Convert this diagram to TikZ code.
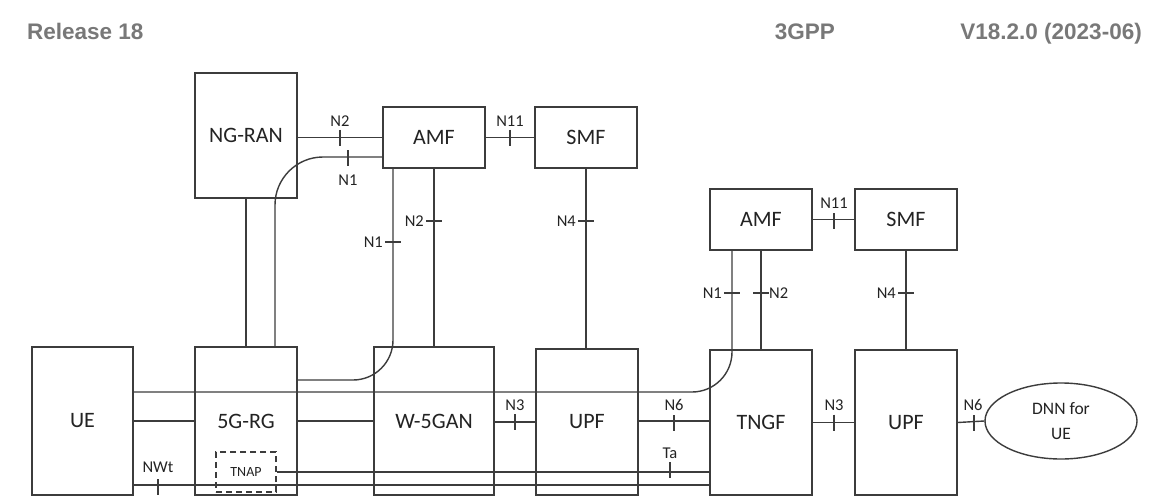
\documentclass[tikz,border=0pt]{standalone}
\usepackage{fontspec}
\setmainfont{Carlito}
\newfontfamily\hdrfont{Liberation Sans}
\usetikzlibrary{shapes.geometric,calc}
\definecolor{lc}{RGB}{60,60,60}
\definecolor{tc}{RGB}{35,35,35}
\definecolor{hc}{RGB}{120,120,120}
\begin{document}
\begin{tikzpicture}[x=1pt,y=-1pt,
  box/.style={draw=lc, line width=1.4pt, inner sep=0pt, text=tc, font=\fontsize{22}{26}\selectfont},
  conn/.style={draw=lc, line width=1.4pt},
  lbl/.style={text=tc, inner sep=1pt, font=\fontsize{16.5}{18}\selectfont},
  hd/.style={text=hc, inner sep=0pt, font=\hdrfont\bfseries\fontsize{22.5}{26}\selectfont},
  vtick/.pic={\draw[conn] (0,-8) -- (0,8);},
  htick/.pic={\draw[conn] (-8,0) -- (8,0);}
]
\useasboundingbox (0,0) rectangle (1165,498);
\fill[white] (0,0) rectangle (1165,498);

% header
\node[hd, anchor=base west] (rel) at (27,39) {Release 18};
\node[hd, anchor=base east] (gpp) at (835,39) {3GPP};
\node[hd, anchor=base east] (ver) at (1142,39) {V18.2.0 (2023-06)};

% boxes
\node[box, minimum width=102, minimum height=125] (ngran) at (246,135.5) {NG-RAN};
\node[box, minimum width=102, minimum height=61] (amf1) at (434,137.5) {AMF};
\node[box, minimum width=102, minimum height=61] (smf1) at (586,137.5) {SMF};
\node[box, minimum width=101, minimum height=148] (ue) at (82.5,421) {UE};
\node[box, minimum width=102, minimum height=148] (rg) at (246,421) {5G-RG};
\node[box, dashed, dash pattern=on 6pt off 4pt, line width=1.2pt, minimum width=60, minimum height=40,
      font=\fontsize{14}{16}\selectfont] (tnap) at (246,472) {TNAP};
\node[box, minimum width=120, minimum height=148] (w5gan) at (434,421) {W-5GAN};
\node[box, minimum width=102, minimum height=146] (upf1) at (587,422) {UPF};
\node[box, minimum width=102, minimum height=145] (tngf) at (761,422.5) {TNGF};
\node[box, minimum width=102, minimum height=61] (amf2) at (761,219.5) {AMF};
\node[box, minimum width=102, minimum height=61] (smf2) at (906,219.5) {SMF};
\node[box, minimum width=102, minimum height=145] (upf2) at (906,422.5) {UPF};
\node[box, ellipse, minimum width=152, minimum height=76, align=center,
      font=\fontsize{17.5}{25}\selectfont] (dnn) at (1061,421) {DNN for\\UE};

% top connections
\draw[conn] (amf1.west) -- (amf1.west -| ngran.east);
\pic at (340,137.5) {vtick};
\node[lbl] (ln2a) at (340,121) {N2};
\draw[conn, rounded corners=48] (amf1.west |- 0,157) -| (rg.north -| 275,0);
\pic at (348,158) {vtick};
\node[lbl] (ln1a) at (348,180) {N1};
\draw[conn] (ngran.south) -- (rg.north);
\draw[conn] (amf1.east) -- (smf1.west);
\pic at (510,137.5) {vtick};
\node[lbl] (ln11a) at (510,121) {N11};

% AMF1 to 5G-RG / W-5GAN
\draw[conn, rounded corners=40] (amf1.south -| 393,0) |- (rg.east |- 0,380);
\pic at (393,242) {htick};
\node[lbl, anchor=east] (ln1b) at (384,242) {N1};
\draw[conn] (amf1.south) -- (w5gan.north);
\pic at (434,221) {htick};
\node[lbl, anchor=east] (ln2b) at (425,221) {N2};
\draw[conn] (smf1.south) -- (smf1.south |- upf1.north);
\pic at (586,221) {htick};
\node[lbl, anchor=east] (ln4a) at (577,221) {N4};

% UE lines
\draw[conn, rounded corners=40] (ue.east |- 0,392) -| (amf2.south -| 732,0);
\draw[conn] (ue.east) -- (rg.west);
\draw[conn] (rg.east) -- (w5gan.west);
\draw[conn] (ue.east |- 0,485) -- (tngf.west |- 0,485);
\pic at (158,487) {vtick};
\node[lbl] (lnwt) at (158,467) {NWt};
\draw[conn] (tnap.east) -- (tngf.west |- tnap.east);
\pic at (670,470) {vtick};
\node[lbl] (lta) at (670,453) {Ta};

% middle horizontal
\draw[conn] (w5gan.east |- 0,422) -- (upf1.west |- 0,422);
\pic at (515,422) {vtick};
\node[lbl] (ln3a) at (515,405) {N3};
\draw[conn] (upf1.east |- 0,421) -- (tngf.west |- 0,421);
\pic at (674,423) {vtick};
\node[lbl] (ln6a) at (674,405) {N6};

% right side
\draw[conn] (amf2.east) -- (smf2.west);
\pic at (834,221) {vtick};
\node[lbl] (ln11b) at (834,203) {N11};
\pic at (732,293) {htick};
\node[lbl, anchor=east] (ln1c) at (723,293) {N1};
\draw[conn] (amf2.south) -- (tngf.north);
\pic at (761,293) {htick};
\node[lbl, anchor=west] (ln2c) at (768,293) {N2};
\draw[conn] (smf2.south) -- (upf2.north);
\pic at (906,293) {htick};
\node[lbl, anchor=east] (ln4b) at (897,293) {N4};
\draw[conn] (tngf.east) -- (upf2.west);
\pic at (834,422.5) {vtick};
\node[lbl] (ln3b) at (834,405) {N3};
\draw[conn] (upf2.east) -- (dnn.west);
\pic at (974,423) {vtick};
\node[lbl] (ln6b) at (973,405) {N6};
\end{tikzpicture}
\end{document}
